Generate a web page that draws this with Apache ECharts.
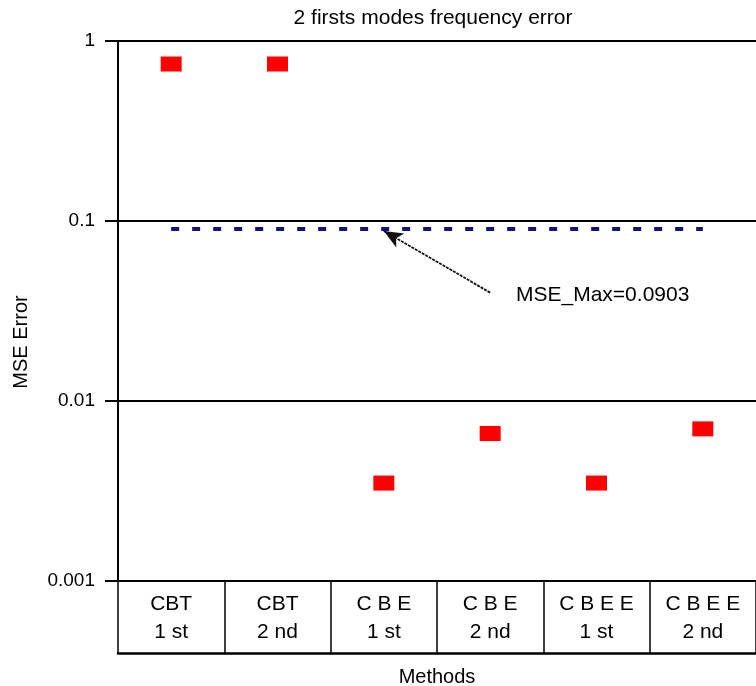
<!DOCTYPE html>
<html>
<head>
<meta charset="utf-8">
<script src="https://cdn.jsdelivr.net/npm/echarts@6/dist/echarts.min.js"></script>
<style>html,body{margin:0;padding:0;background:#fff}#c{width:756px;height:686px}</style>
</head>
<body>
<div id="c"></div>
<script>
// Data
const categories = ['CBT\n1 st', 'CBT\n2 nd', 'C B E\n1 st', 'C B E\n2 nd', 'C B E E\n1 st', 'C B E E\n2 nd'];
const mseValues = [0.745, 0.745, 0.0035, 0.0066, 0.0035, 0.0070];
const mseMax = 0.0903;
const arrowTail = [3, 0.04];
const arrowTip = [2, 0.088];
const yMin = 0.001, yMax = 1;

const FONT = '"Liberation Sans", Arial, Helvetica, sans-serif';
const chart = echarts.init(document.getElementById('c'), null, {renderer: 'canvas'});

chart.setOption({
  animation: false,
  backgroundColor: '#fff',
  grid: {left: 118, top: 41, width: 641, height: 540, containLabel: false},
  xAxis: [{
    type: 'category',
    data: categories,
    position: 'bottom',
    boundaryGap: true,
    axisLine: {show: true, lineStyle: {color: '#000', width: 2}},
    axisTick: {show: true, inside: false, length: 72, interval: 0, alignWithLabel: false,
      lineStyle: {color: '#000', width: 1.5}},
    axisLabel: {show: true, interval: 0, margin: 9, color: '#000', fontSize: 21,
      fontFamily: FONT, lineHeight: 28, align: 'center'},
    splitLine: {show: false}
  }, {
    type: 'category',
    data: categories,
    position: 'bottom',
    offset: 72,
    axisLine: {show: true, lineStyle: {color: '#000', width: 2.5}},
    axisTick: {show: false},
    axisLabel: {show: false},
    splitLine: {show: false}
  }],
  yAxis: {
    type: 'log',
    logBase: 10,
    min: yMin,
    max: yMax,
    axisLine: {show: true, lineStyle: {color: '#000', width: 2}},
    axisTick: {show: true, inside: false, length: 13, lineStyle: {color: '#000', width: 2}},
    axisLabel: {color: '#000', fontSize: 19, fontFamily: FONT, margin: 23},
    splitLine: {show: true, lineStyle: {color: '#000', width: 2}}
  },
  series: [{
    type: 'scatter',
    xAxisIndex: 0,
    data: mseValues.map((v, i) => [i, v]),
    symbol: 'rect',
    symbolSize: [21, 15],
    itemStyle: {color: '#ff0000', opacity: 1},
    silent: true,
    markLine: {
      silent: true,
      animation: false,
      label: {show: false},
      data: [
        [
          {coord: [0, mseMax], symbol: 'none', lineStyle: {color: '#12127a', width: 4, type: [8, 13]}},
          {coord: [5, mseMax], symbol: 'none'}
        ],
        [
          {coord: arrowTail, symbol: 'none', lineStyle: {color: '#111', width: 1.8, type: [3, 1]}},
          {coord: arrowTip, symbol: 'arrow', symbolSize: [12, 19]}
        ]
      ]
    }
  }],
  graphic: [
    {type: 'text', x: 433, y: 18, style: {text: '2 firsts modes frequency error', fill: '#000',
      font: '21px ' + FONT, textAlign: 'center', textVerticalAlign: 'middle'}},
    {type: 'text', x: 516, y: 295, style: {text: 'MSE_Max=0.0903', fill: '#000',
      font: '21px ' + FONT, textAlign: 'left', textVerticalAlign: 'middle'}},
    {type: 'text', x: 437, y: 677, style: {text: 'Methods', fill: '#000',
      font: '20px ' + FONT, textAlign: 'center', textVerticalAlign: 'middle'}},
    {type: 'text', x: 21, y: 342, rotation: Math.PI / 2, style: {text: 'MSE Error', fill: '#000',
      font: '20px ' + FONT, textAlign: 'center', textVerticalAlign: 'middle'}}
  ]
});
</script>
</body>
</html>
